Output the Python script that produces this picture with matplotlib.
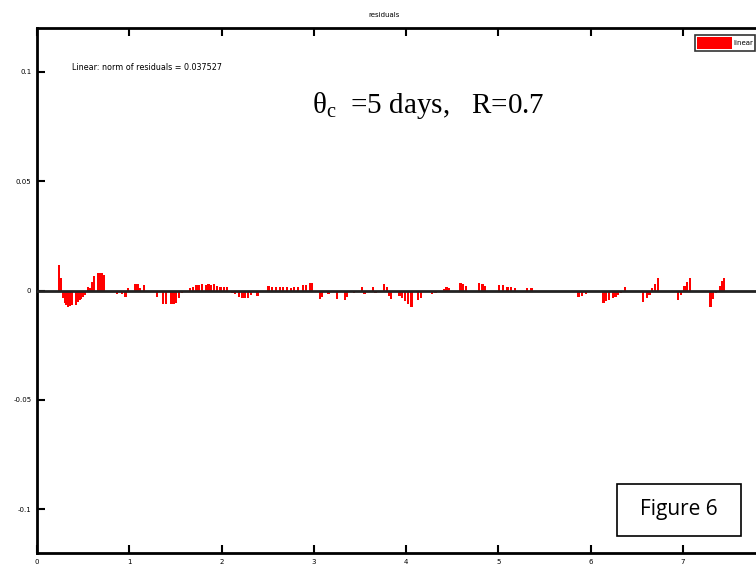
import numpy as np
import matplotlib.pyplot as plt
from matplotlib.patches import Rectangle

plt.rcParams['mathtext.fontset'] = 'custom'
plt.rcParams['mathtext.rm'] = 'Liberation Serif'
plt.rcParams['mathtext.it'] = 'Liberation Serif:italic'

# residuals (x, residual)
x_vals = [0.24, 0.26, 0.28, 0.30, 0.32, 0.34, 0.36, 0.38, 0.42, 0.44, 0.46, 0.48, 0.50, 0.52,
          0.55, 0.57, 0.60, 0.62, 0.66, 0.68, 0.70, 0.73,
          0.87, 0.92, 0.96, 0.99, 1.06, 1.09, 1.12, 1.16,
          1.30, 1.37, 1.40, 1.45, 1.48, 1.51, 1.54, 1.57,
          1.66, 1.69, 1.72, 1.75, 1.79, 1.83, 1.86, 1.89, 1.92, 1.95, 1.99, 2.03, 2.06,
          2.12, 2.15, 2.19, 2.22, 2.25, 2.29, 2.32, 2.39,
          2.51, 2.55, 2.59, 2.63, 2.67, 2.71, 2.75, 2.79, 2.83, 2.88, 2.92, 2.96, 2.98,
          3.07, 3.09, 3.16, 3.25, 3.34, 3.36, 3.44, 3.52, 3.55, 3.64, 3.67, 3.76, 3.79, 3.82, 3.84,
          3.93, 3.96, 3.99, 4.02, 4.06, 4.13, 4.16, 4.28, 4.32,
          4.41, 4.44, 4.46, 4.59, 4.62, 4.65, 4.79, 4.83, 4.86,
          5.01, 5.05, 5.10, 5.14, 5.18, 5.31, 5.36,
          5.87, 5.91, 5.95,
          6.14, 6.17, 6.20, 6.24, 6.27, 6.30, 6.33, 6.37,
          6.57, 6.61, 6.64, 6.67, 6.70, 6.73,
          6.95, 6.98, 7.02, 7.05, 7.08,
          7.30, 7.33, 7.36, 7.40, 7.43, 7.45]
resid = [0.0115, 0.0055, -0.0035, -0.0055, -0.0068, -0.0075, -0.0072, -0.0068, -0.0068, -0.0052,
         -0.0045, -0.0040, -0.0028, -0.0020,
         0.0015, 0.0010, 0.0040, 0.0068, 0.0080, 0.0082, 0.0078, 0.0070,
         -0.0018, -0.0018, -0.0028, 0.0012, 0.0028, 0.0028, 0.0012, 0.0025,
         -0.0030, -0.0060, -0.0063, -0.0063, -0.0060, -0.0055, -0.0035, -0.0010,
         0.0010, 0.0015, 0.0025, 0.0027, 0.0030, 0.0025, 0.0030, 0.0025, 0.0030, 0.0022, 0.0018, 0.0015, 0.0015,
         -0.0010, -0.0017, -0.0028, -0.0035, -0.0032, -0.0035, -0.0020, -0.0025,
         0.0020, 0.0017, 0.0015, 0.0017, 0.0015, 0.0015, 0.0012, 0.0015, 0.0018, 0.0027, 0.0027, 0.0035, 0.0033,
         -0.0038, -0.0030, -0.0015, -0.0038, -0.0045, -0.0030, -0.0012, 0.0015, -0.0015, 0.0015, -0.0012,
         0.0028, 0.0015, -0.0025, -0.0038,
         -0.0025, -0.0035, -0.0048, -0.0060, -0.0075, -0.0045, -0.0035, -0.0018, -0.0012,
         0.0008, 0.0018, 0.0010, 0.0034, 0.0028, 0.0022, 0.0034, 0.0028, 0.0020,
         0.0026, 0.0026, 0.0018, 0.0015, 0.0012, 0.0012, 0.0012,
         -0.0028, -0.0025, -0.0015,
         -0.0058, -0.0050, -0.0042, -0.0035, -0.0028, -0.0020, -0.0012, 0.0015,
         -0.0053, -0.0035, -0.0020, 0.0012, 0.0030, 0.0056,
         -0.0043, -0.0020, 0.0020, 0.0040, 0.0056,
         -0.0076, -0.0040, -0.0010, 0.0020, 0.0045, 0.0056]

yticks = [-0.1, -0.05, 0, 0.05, 0.1]
ytick_labels = ['-0.1', '-0.05', '0', '0.05', '0.1']
xticks = [0, 1, 2, 3, 4, 5, 6, 7]

fig = plt.figure(figsize=(7.56, 5.68), dpi=100)
ax = fig.add_axes([37 / 756, 15 / 568, 738 / 756, 525 / 568])

ax.bar(x_vals, resid, width=0.024, color='red', edgecolor='none', label='linear')
ax.axhline(0, color='#222222', lw=2, zorder=3)

ax.set_xlim(0, 8)
ax.set_ylim(-0.12, 0.12)
ax.set_xticks(xticks)
ax.set_xticklabels([str(t) for t in xticks])
ax.set_yticks(yticks)
ax.set_yticklabels(ytick_labels)
ax.tick_params(direction='in', length=6, width=1.5, labelsize=5, top=True, right=True, pad=4)
for s in ax.spines.values():
    s.set_linewidth(2)

ax.set_title('residuals', fontsize=5, pad=8, x=0.47)

ax.text(0.047, 0.925, 'Linear: norm of residuals = 0.037527', transform=ax.transAxes,
        fontsize=5.8, va='center', ha='left')

ax.text(0.372, 0.852, r'$\mathregular{\theta_c}$  =5 days,   R=0.7', transform=ax.transAxes,
        fontsize=21, family='Liberation Serif', va='center', ha='left')

leg = ax.legend(loc='upper left', bbox_to_anchor=(658 / 738, 0.987), fontsize=5, frameon=True,
                fancybox=False, edgecolor='black', handlelength=5.0, handleheight=2.2,
                borderpad=0.3, handletextpad=0.2, borderaxespad=0)
leg.get_frame().set_linewidth(1.2)

fig.patches.append(Rectangle((617 / 756, 1 - 536 / 568), 124 / 756, 52 / 568,
                             transform=fig.transFigure, fill=False, edgecolor='black', lw=1.2))
fig.text(679 / 756, 1 - 509 / 568, 'Figure 6', fontsize=15, family='Open Sans',
         ha='center', va='center')

fig.savefig('out.png', dpi=100)
